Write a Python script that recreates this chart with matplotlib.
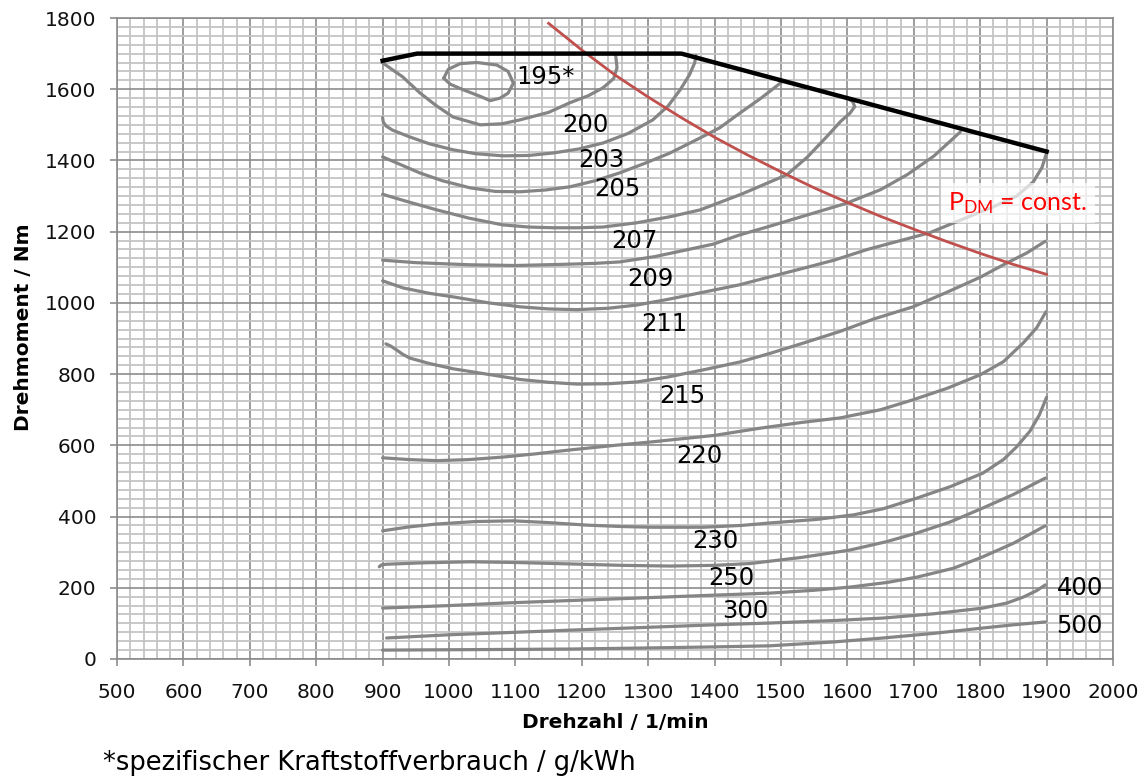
import matplotlib
matplotlib.use('Agg')
import matplotlib.pyplot as plt
from matplotlib.ticker import MultipleLocator

plt.rcParams['font.family'] = 'DejaVu Sans'

# Volllast-Linie (full load)
full_n = [900, 952, 1350, 1900]
full_t = [1680, 1700, 1700, 1425]

# P_DM = const.
pdm_n = [1150, 1200, 1250, 1300, 1350, 1400, 1450, 1500, 1550, 1600, 1650, 1700, 1750, 1800, 1850, 1900]
pdm_t = [1785, 1710, 1640, 1578, 1520, 1465, 1415, 1368, 1323, 1282, 1243, 1207, 1172, 1139, 1108, 1080]

# be-Kennfeld: Linien konstanten spezifischen Verbrauchs
n_195 = [992, 999, 1017, 1042, 1072, 1089, 1097, 1089, 1077, 1062, 1047, 1022, 1002, 992]
t_195 = [1631, 1656, 1672, 1675, 1668, 1650, 1617, 1589, 1575, 1568, 1580, 1598, 1614, 1631]

n_200 = [900, 930, 956, 980, 1006, 1047, 1080, 1107, 1150, 1182, 1210, 1232, 1248, 1253, 1251]
t_200 = [1674, 1635, 1590, 1555, 1522, 1500, 1503, 1514, 1535, 1562, 1582, 1604, 1630, 1660, 1697]

n_203 = [900, 901, 905, 915, 941, 970, 1006, 1040, 1081, 1120, 1157, 1195, 1232, 1270, 1307, 1330, 1348, 1362, 1370, 1372]
t_203 = [1520, 1508, 1497, 1485, 1466, 1447, 1430, 1419, 1413, 1414, 1421, 1432, 1449, 1476, 1514, 1553, 1598, 1640, 1674, 1695]

n_205 = [900, 925, 956, 990, 1032, 1070, 1107, 1145, 1182, 1220, 1257, 1295, 1333, 1378, 1408, 1438, 1470, 1501]
t_205 = [1410, 1390, 1365, 1343, 1323, 1313, 1312, 1317, 1326, 1343, 1365, 1392, 1421, 1463, 1492, 1533, 1575, 1620]

n_207 = [900, 940, 982, 1030, 1081, 1120, 1157, 1195, 1232, 1283, 1333, 1378, 1440, 1509, 1540, 1569, 1590, 1604, 1611, 1608, 1600]
t_207 = [1305, 1283, 1261, 1238, 1219, 1213, 1211, 1211, 1213, 1225, 1242, 1261, 1305, 1360, 1410, 1467, 1510, 1533, 1551, 1565, 1575]

n_209 = [900, 950, 1032, 1100, 1167, 1220, 1257, 1310, 1358, 1398, 1438, 1479, 1529, 1599, 1650, 1690, 1730, 1770]
t_209 = [1120, 1113, 1107, 1105, 1108, 1111, 1115, 1130, 1149, 1165, 1191, 1213, 1241, 1280, 1318, 1360, 1412, 1480]

n_211 = [900, 931, 970, 1006, 1060, 1107, 1150, 1193, 1240, 1283, 1330, 1383, 1438, 1483, 1529, 1580, 1630, 1680, 1724, 1780, 1820, 1855, 1880, 1893, 1900]
t_211 = [1062, 1042, 1027, 1017, 1000, 989, 983, 981, 985, 994, 1010, 1030, 1051, 1073, 1095, 1120, 1150, 1175, 1197, 1240, 1270, 1300, 1340, 1380, 1421]

n_215 = [905, 912, 921, 930, 941, 970, 1006, 1060, 1107, 1150, 1193, 1240, 1283, 1330, 1383, 1438, 1483, 1530, 1589, 1640, 1699, 1750, 1800, 1840, 1870, 1898]
t_215 = [885, 879, 868, 856, 845, 830, 815, 799, 785, 777, 772, 773, 778, 792, 812, 834, 858, 885, 920, 955, 989, 1030, 1072, 1112, 1140, 1173]

n_220 = [900, 940, 982, 1030, 1081, 1130, 1182, 1250, 1307, 1400, 1468, 1530, 1589, 1650, 1699, 1750, 1800, 1835, 1865, 1885, 1899]
t_220 = [565, 560, 557, 560, 567, 576, 587, 600, 610, 628, 648, 664, 677, 700, 728, 760, 798, 835, 888, 930, 975]

n_230 = [900, 940, 981, 1040, 1097, 1150, 1207, 1260, 1307, 1383, 1440, 1483, 1554, 1610, 1654, 1705, 1755, 1804, 1835, 1855, 1875, 1889, 1900]
t_230 = [360, 371, 379, 386, 388, 383, 376, 372, 370, 370, 375, 382, 392, 405, 422, 452, 484, 522, 560, 596, 640, 685, 735]

n_250 = [895, 898, 905, 960, 1032, 1100, 1182, 1260, 1333, 1400, 1453, 1530, 1604, 1660, 1705, 1755, 1804, 1850, 1898]
t_250 = [259, 264, 266, 270, 273, 271, 267, 263, 261, 263, 268, 285, 306, 330, 354, 385, 424, 462, 508]

n_300 = [900, 1000, 1081, 1180, 1283, 1380, 1483, 1550, 1604, 1660, 1705, 1760, 1804, 1850, 1898]
t_300 = [143, 150, 157, 164, 171, 178, 185, 193, 202, 215, 230, 255, 287, 325, 374]

n_400 = [906, 1000, 1100, 1182, 1300, 1400, 1483, 1580, 1654, 1730, 1804, 1840, 1865, 1885, 1898]
t_400 = [59, 68, 75, 81, 89, 96, 101, 108, 115, 127, 143, 157, 174, 192, 208]

n_500 = [900, 1000, 1100, 1182, 1300, 1400, 1483, 1580, 1654, 1730, 1804, 1850, 1898]
t_500 = [25, 26, 27, 28, 31, 34, 37, 48, 59, 72, 87, 96, 104]

contours = [(n_195, t_195), (n_200, t_200), (n_203, t_203), (n_205, t_205),
            (n_207, t_207), (n_209, t_209), (n_211, t_211), (n_215, t_215),
            (n_220, t_220), (n_230, t_230), (n_250, t_250), (n_300, t_300),
            (n_400, t_400), (n_500, t_500)]

labels = ['195*', '200', '203', '205', '207', '209', '211', '215', '220', '230', '250', '300', '400', '500']
label_n = [1102, 1205, 1229, 1253, 1279, 1303, 1325, 1351, 1377, 1401, 1425, 1447, 1950, 1950]
label_t = [1635, 1500, 1402, 1320, 1174, 1067, 941, 739, 570, 331, 228, 135, 199, 93]

fig = plt.figure(figsize=(11.48, 7.78), dpi=100)
ax = fig.add_axes([117/1148, 1-659/778, (1113-117)/1148, (659-18)/778])

ax.set_xlim(500, 2000)
ax.set_ylim(0, 1800)
ax.xaxis.set_major_locator(MultipleLocator(100))
ax.xaxis.set_minor_locator(MultipleLocator(20))
ax.yaxis.set_major_locator(MultipleLocator(200))
ax.yaxis.set_minor_locator(MultipleLocator(25))
ax.grid(which='minor', color='#c4c4c4', lw=1.3)
ax.grid(which='major', color='#8c8c8c', lw=1.2)
ax.set_axisbelow(True)
for s in ax.spines.values():
    s.set_color('#8c8c8c')
    s.set_linewidth(1.2)

ax.tick_params(which='major', length=5, width=1.2, color='#8c8c8c', labelsize=14.5, labelcolor='#111111')
ax.tick_params(axis='x', which='major', pad=12)
ax.tick_params(axis='y', which='major', pad=10)
ax.tick_params(which='minor', length=0)

for n, t in contours:
    ax.plot(n, t, color='#858585', lw=2.3, solid_capstyle='round', solid_joinstyle='round', zorder=3)

ax.plot(full_n, full_t, color='black', lw=3.2, zorder=5)
ax.plot(pdm_n, pdm_t, color='#c0504d', lw=2.0, zorder=4)

for lab, x, y in zip(labels, label_n, label_t):
    ha = 'left' if lab == '195*' else 'center'
    ax.text(x, y, lab, fontsize=17.5, ha=ha, va='center', color='black', zorder=6)

ax.text(1857, 1261, r'$\mathregular{P_{DM}}$ = const.', fontsize=18, color='#ff0000',
        ha='center', va='baseline', family='Lato', zorder=6,
        bbox=dict(facecolor='white', edgecolor='none', alpha=0.7, pad=5))

ax.set_xlabel('Drehzahl / 1/min', fontsize=14.5, fontweight='bold', labelpad=8)
ax.set_ylabel('Drehmoment / Nm', fontsize=14.5, fontweight='bold')
ax.yaxis.set_label_coords(-0.084, 0.518)

fig.text(103/1148, 1-763/778, '*spezifischer Kraftstoffverbrauch / g/kWh', fontsize=18.5,
         ha='left', va='center')

fig.savefig('out.png', dpi=100)
